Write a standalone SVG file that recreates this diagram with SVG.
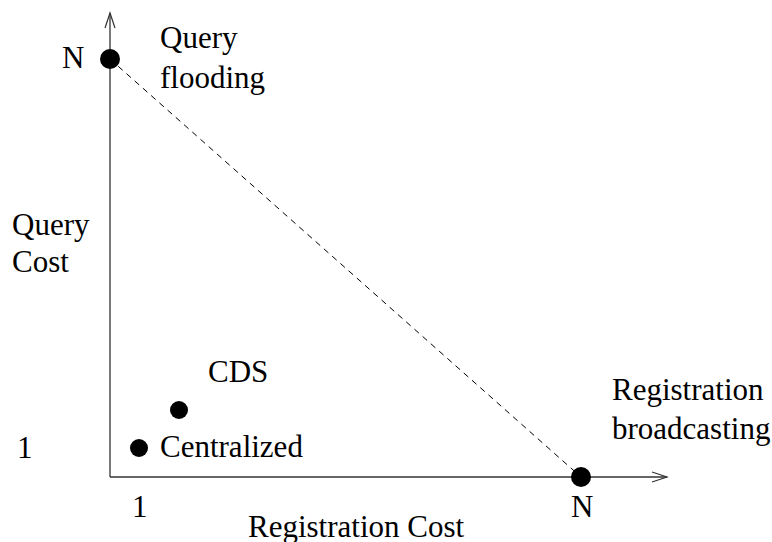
<svg xmlns="http://www.w3.org/2000/svg" width="772" height="542" viewBox="0 0 772 542">
  <style>
    .lbl { font-family: "Liberation Serif", "Times New Roman", serif; font-size: 31px; fill: #000; }
    .axis { stroke: #333; stroke-width: 1.3; fill: none; }
    .head { stroke: #333; stroke-width: 1.2; fill: none; }
    .dot { fill: #000; }
  </style>
  <rect width="772" height="542" fill="#fff"/>

  <g id="connectors">
    <!-- axes -->
    <line class="axis" x1="110" y1="477" x2="110" y2="13"/>
    <line class="axis" x1="110" y1="477" x2="667" y2="477"/>
    <polyline class="head" points="105,28 110,13 115,28"/>
    <polyline class="head" points="652,472 667,477 652,482"/>
    <!-- trade-off line -->
    <line x1="110" y1="59" x2="581" y2="477" stroke="#000" stroke-width="1" stroke-dasharray="6,5"/>
  </g>

  <g id="axis-labels">
    <text class="lbl" x="12" y="235">Query</text>
    <text class="lbl" x="12" y="272">Cost</text>
    <text class="lbl" x="248" y="537">Registration Cost</text>
    <text class="lbl" x="62" y="68">N</text>
    <text class="lbl" x="17" y="458">1</text>
    <text class="lbl" x="132" y="517">1</text>
    <text class="lbl" x="571" y="517">N</text>
  </g>

  <g id="query-flooding">
    <circle class="dot" cx="110" cy="59" r="10"/>
    <text class="lbl" x="160" y="48">Query</text>
    <text class="lbl" x="160" y="88">flooding</text>
  </g>

  <g id="registration-broadcasting">
    <circle class="dot" cx="581" cy="477" r="10"/>
    <text class="lbl" x="612" y="400">Registration</text>
    <text class="lbl" x="612" y="439">broadcasting</text>
  </g>

  <g id="cds">
    <circle class="dot" cx="179" cy="410" r="9"/>
    <text class="lbl" x="208" y="382">CDS</text>
  </g>

  <g id="centralized">
    <circle class="dot" cx="139" cy="448" r="9"/>
    <text class="lbl" x="160" y="457">Centralized</text>
  </g>
</svg>
